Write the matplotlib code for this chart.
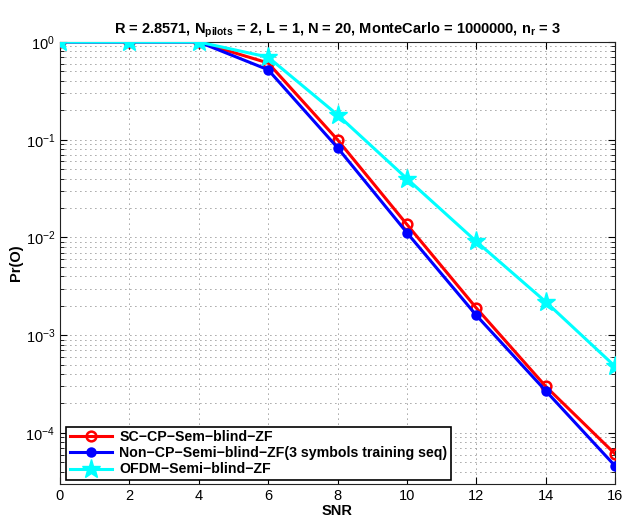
import matplotlib
matplotlib.use("Agg")
import matplotlib.pyplot as plt
from matplotlib.ticker import LogLocator, NullFormatter, FixedLocator

plt.rcParams['font.family'] = ['Liberation Sans', 'DejaVu Sans']
plt.rcParams['mathtext.fontset'] = 'custom'
plt.rcParams['mathtext.rm'] = 'Liberation Sans'
plt.rcParams['mathtext.bf'] = 'Liberation Sans:bold'
plt.rcParams['mathtext.default'] = 'regular'

snr = [0, 2, 4, 6, 8, 10, 12, 14, 16]
sc_cp = [1.0, 1.0, 1.0, 0.61, 0.10, 0.0136, 0.0019, 0.00030, 6.1e-5]
non_cp = [1.0, 1.0, 1.0, 0.52, 0.083, 0.0112, 0.0016, 0.00027, 4.6e-5]
ofdm = [1.0, 1.0, 1.0, 0.70, 0.18, 0.040, 0.0091, 0.0022, 0.00048]
labels = ['SC\u2212CP\u2212Sem\u2212blind\u2212ZF',
          'Non\u2212CP\u2212Semi\u2212blind\u2212ZF(3 symbols training seq)',
          'OFDM\u2212Semi\u2212blind\u2212ZF']
xticks = [0, 2, 4, 6, 8, 10, 12, 14, 16]

fig = plt.figure(figsize=(6.24, 5.19), dpi=100)
ax = fig.add_axes([60/624, 35/519, 555/624, 442/519])

ax.semilogy(snr, sc_cp, color='red', lw=2.2, marker='o', ms=7, mfc='none', mew=1.8, label=labels[0], zorder=3)
ax.semilogy(snr, non_cp, color='blue', lw=2.2, marker='o', ms=6, mfc='blue', mew=1.5, label=labels[1], zorder=4)
ax.semilogy(snr, ofdm, color='cyan', lw=2.2, marker='*', ms=14, mew=1.0, label=labels[2], zorder=5)

ax.set_xlim(0, 16)
ax.set_ylim(3e-5, 1)
ax.xaxis.set_major_locator(FixedLocator(xticks))
ax.yaxis.set_major_locator(LogLocator(base=10, numticks=10))
ax.yaxis.set_minor_locator(LogLocator(base=10, subs=range(2, 10), numticks=20))
ax.yaxis.set_minor_formatter(NullFormatter())
ax.tick_params(which='both', direction='in', top=True, right=True, labelsize=10.5)
ax.tick_params(which='major', length=5)
ax.tick_params(which='minor', length=3)
ax.grid(True, which='major', linestyle=(0, (1, 5)), color='#444444', lw=0.6)
ax.grid(True, which='minor', axis='y', linestyle=(0, (1, 5)), color='#444444', lw=0.6)
for s in ax.spines.values():
    s.set_color('#222222')
    s.set_linewidth(0.8)

ax.set_xlabel('SNR', fontweight='bold', fontsize=10.5, labelpad=1)
ax.set_ylabel('Pr(O)', fontweight='bold', fontsize=10.5, labelpad=2)
ax.set_title(r'R = 2.8571, N$_{\mathbf{pilots}}$ = 2, L = 1, N = 20, MonteCarlo = 1000000, n$_{\mathbf{r}}$ = 3',
             fontweight='bold', fontsize=10.5, pad=6)

leg = ax.legend(loc='lower left', bbox_to_anchor=(0.011, 0.009), prop={'weight': 'bold', 'size': 10.2},
                frameon=True, fancybox=False, edgecolor='black', framealpha=1,
                handlelength=3.0, borderpad=0.25, labelspacing=0.15, handletextpad=0.5,
                borderaxespad=0)
leg.get_frame().set_linewidth(1.2)

fig.savefig('out.png', dpi=100)
